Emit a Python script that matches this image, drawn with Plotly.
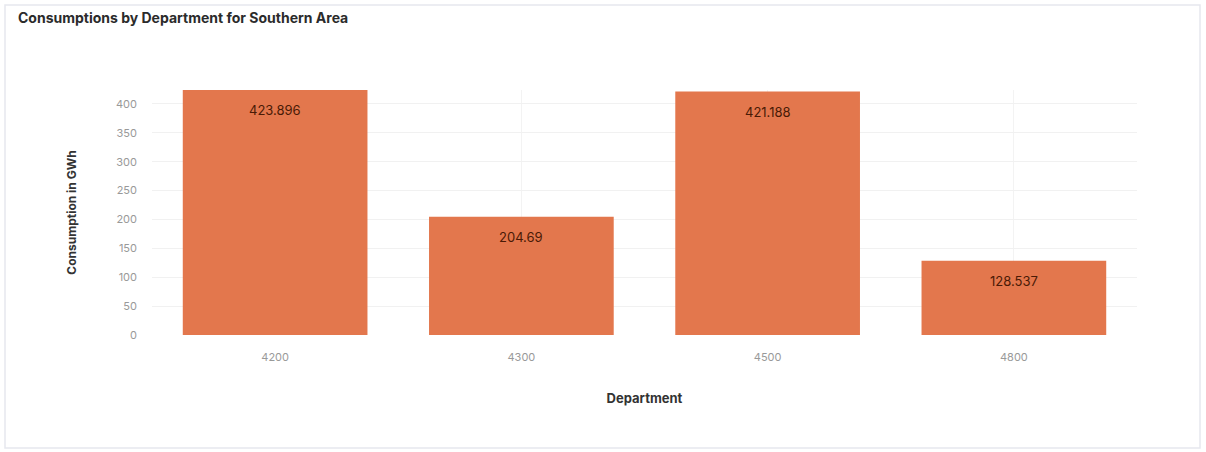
import plotly.graph_objects as go

departments = ["4200", "4300", "4500", "4800"]
consumption = [423.896, 204.69, 421.188, 128.537]
y_ticks = [0, 50, 100, 150, 200, 250, 300, 350, 400]

L, R, T, B = 152, 69, 90, 117
W, H = 1206, 452
pw, ph = W - L - R, H - T - B

def px(x):
    return (x - L) / pw

def py(y):
    return (H - B - y) / ph

fig = go.Figure(go.Bar(
    x=departments,
    y=consumption,
    marker=dict(color="#E3774D", line=dict(width=0)),
    hoverinfo="x+y",
))

fig.update_layout(
    width=W, height=H,
    margin=dict(l=L, r=R, t=T, b=B),
    paper_bgcolor="white",
    plot_bgcolor="white",
    bargap=0.25,
    showlegend=False,
    title=dict(
        text="<b>Consumptions by Department for Southern Area</b>",
        x=18 / W, xanchor="left", y=1 - 18 / H, yanchor="middle",
        font=dict(family="Inter, Roboto, sans-serif", size=14, color="#2b2b2b"),
    ),
    xaxis=dict(
        type="category",
        categoryorder="array", categoryarray=departments,
        showgrid=True, gridcolor="#f3f3f3",
        tickfont=dict(family="Inter, Roboto, sans-serif", size=11, color="#999999"),
        ticks="", ticklabelstandoff=14,
        title=dict(text="<b>Department</b>", standoff=30,
                   font=dict(family="Inter, Roboto, sans-serif", size=13, color="#333333")),
        zeroline=False, showline=False,
    ),
    yaxis=dict(
        range=[0, 424],
        tickvals=y_ticks,
        showgrid=True, gridcolor="#f1f1f1",
        tickfont=dict(family="Inter, Roboto, sans-serif", size=11, color="#999999"),
        ticks="", ticklabelstandoff=14,
        title=dict(text="<b>Consumption in GWh</b>", standoff=36,
                   font=dict(family="Inter, Roboto, sans-serif", size=12, color="#333333")),
        zeroline=False, showline=False,
    ),
    shapes=[dict(
        type="rect", xref="paper", yref="paper",
        x0=px(5), x1=px(1200), y0=py(448), y1=py(5),
        line=dict(color="#e6e8ee", width=1.5), fillcolor="rgba(0,0,0,0)",
        layer="below",
    )],
)

for i, v in enumerate(consumption):
    fig.add_annotation(
        x=i, y=v, xref="x", yref="y", text=f"{v:g}", showarrow=False,
        yanchor="middle", yshift=-20,
        font=dict(family="Inter, Roboto, sans-serif", size=13, color="#4a1a06"),
    )

fig.write_html("out.html")
